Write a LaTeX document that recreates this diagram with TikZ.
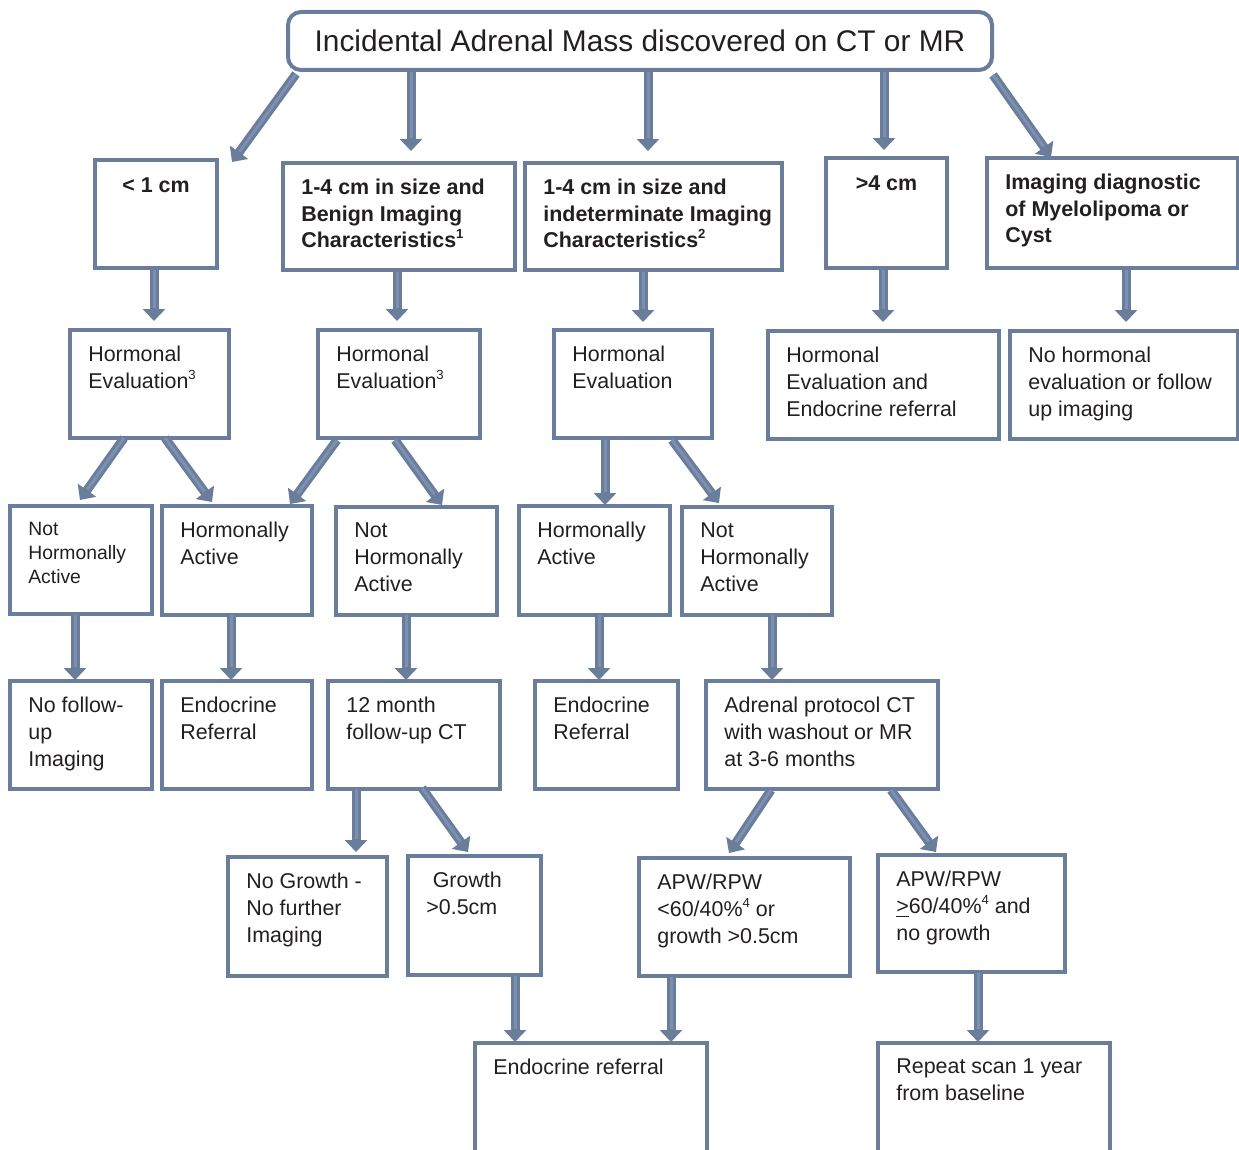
\documentclass[tikz,border=0pt]{standalone}
\usepackage{fontspec}
\setmainfont{Liberation Sans}
\usetikzlibrary{arrows.meta}
\definecolor{frame}{RGB}{106,125,155}
\definecolor{shaft}{RGB}{124,144,178}
\definecolor{ink}{RGB}{35,31,32}
\newcommand{\fnote}[1]{\raisebox{0.42em}{\fontsize{7.5}{7.5}\selectfont #1}}

\begin{document}
\begin{tikzpicture}[
    x=0.02cm, y=-0.02cm,
    font=\fontsize{12.2}{15.4}\selectfont, text=ink,
    box/.style={draw=frame, line width=0.08cm, anchor=north west, inner sep=0pt, outer sep=0pt},
    sz/.style 2 args={minimum width=#1*0.02cm, minimum height=#2*0.02cm},
    txt/.style={anchor=north west, align=left, inner sep=0pt, xshift=0.36cm, yshift=-0.31cm},
    ctxt/.style={anchor=north, align=center, inner sep=0pt, yshift=-0.34cm},
    bold/.style={font=\fontsize{12.2}{15.2}\selectfont\bfseries},
    small/.style={font=\fontsize{11}{13.7}\selectfont},
    arr/.style={frame, line width=0.18cm, -{Triangle[width=0.44cm,length=0.24cm]},
                postaction={draw=shaft, line width=0.06cm, -, shorten >=0.26cm}}
]
\useasboundingbox (0,0) rectangle (1239,1149);

% top
\node[box, sz={704}{58}, rounded corners=0.26cm, align=center,
      font=\fontsize{17}{20}\selectfont] (top) at (288,12)
      {Incidental Adrenal Mass discovered on CT or MR};

% size / imaging classes
\node[box, sz={122}{108}] (lt1) at (95,160) {};
\node[ctxt, bold] (lt1-t) at (lt1.north) {< 1 cm};
\node[box, sz={232}{107}] (ben) at (283,163) {};
\node[txt, bold] (ben-t) at (ben.north west) {1-4 cm in size and\\Benign Imaging\\Characteristics\fnote{1}};
\node[box, sz={257}{107}] (ind) at (525,163) {};
\node[txt, bold] (ind-t) at (ind.north west) {1-4 cm in size and\\indeterminate Imaging\\Characteristics\fnote{2}};
\node[box, sz={121}{110}] (gt4) at (826,158) {};
\node[ctxt, bold] (gt4-t) at (gt4.north) {>4 cm};
\node[box, sz={251}{110}] (mye) at (987,158) {};
\node[txt, bold] (mye-t) at (mye.north west) {Imaging diagnostic\\of Myelolipoma or\\Cyst};

% hormonal evaluation
\node[box, sz={159}{108}] (he1) at (70,330) {};
\node[txt] (he1-t) at (he1.north west) {Hormonal\\Evaluation\fnote{3}};
\node[box, sz={162}{108}] (he2) at (318,330) {};
\node[txt] (he2-t) at (he2.north west) {Hormonal\\Evaluation\fnote{3}};
\node[box, sz={158}{108}] (he3) at (554,330) {};
\node[txt] (he3-t) at (he3.north west) {Hormonal\\Evaluation};
\node[box, sz={231}{108}] (he4) at (768,331) {};
\node[txt] (he4-t) at (he4.north west) {Hormonal\\Evaluation and\\Endocrine referral};
\node[box, sz={228}{108}] (noh) at (1010,331) {};
\node[txt] (noh-t) at (noh.north west) {No hormonal\\evaluation or follow\\up imaging};

% activity
\node[box, sz={142}{108}] (nha1) at (10,506) {};
\node[txt, small] (nha1-t) at (nha1.north west) {Not\\Hormonally\\Active};
\node[box, sz={150}{109}] (ha1) at (162,506) {};
\node[txt] (ha1-t) at (ha1.north west) {Hormonally\\Active};
\node[box, sz={161}{108}] (nha2) at (336,507) {};
\node[txt] (nha2-t) at (nha2.north west) {Not\\Hormonally\\Active};
\node[box, sz={151}{109}] (ha2) at (519,506) {};
\node[txt] (ha2-t) at (ha2.north west) {Hormonally\\Active};
\node[box, sz={150}{108}] (nha3) at (682,507) {};
\node[txt] (nha3-t) at (nha3.north west) {Not\\Hormonally\\Active};

% follow-up
\node[box, sz={142}{108}] (nofu) at (10,681) {};
\node[txt] (nofu-t) at (nofu.north west) {No follow-\\up\\Imaging};
\node[box, sz={150}{108}] (er1) at (162,681) {};
\node[txt] (er1-t) at (er1.north west) {Endocrine\\Referral};
\node[box, sz={172}{108}] (fu12) at (328,681) {};
\node[txt] (fu12-t) at (fu12.north west) {12 month\\follow-up CT};
\node[box, sz={143}{108}] (er2) at (535,681) {};
\node[txt] (er2-t) at (er2.north west) {Endocrine\\Referral};
\node[box, sz={232}{108}] (adr) at (706,681) {};
\node[txt] (adr-t) at (adr.north west) {Adrenal protocol CT\\with washout or MR\\at 3-6 months};

% results
\node[box, sz={159}{119}] (nogr) at (228,857) {};
\node[txt] (nogr-t) at (nogr.north west) {No Growth -\\No further\\Imaging};
\node[box, sz={133}{119}] (gr) at (408,856) {};
\node[txt] (gr-t) at (gr.north west) {\hspace*{0.3em}Growth\\>0.5cm};
\node[box, sz={211}{118}] (apw1) at (639,858) {};
\node[txt] (apw1-t) at (apw1.north west) {APW/RPW\\<60/40\%\fnote{4} or\\growth >0.5cm};
\node[box, sz={187}{117}] (apw2) at (878,855) {};
\node[txt] (apw2-t) at (apw2.north west) {APW/RPW\\\underline{>}60/40\%\fnote{4} and\\no growth};

% outcome
\node[box, sz={232}{120}] (endo) at (475,1043) {};
\node[txt] (endo-t) at (endo.north west) {Endocrine referral};
\node[box, sz={232}{120}] (rep) at (878,1043) {};
\node[txt] (rep-t) at (rep.north west) {Repeat scan 1 year\\from baseline};

% arrows
\draw[arr] ([shift={(8,4)}]top.south west) -- ([shift={(15,2)}]lt1.north east);
\draw[arr] ([shift={(123,2)}]top.south west) -- ([shift={(128,-12)}]ben.north west);
\draw[arr] ([shift={(360,2)}]top.south west) -- ([shift={(123,-12)}]ind.north west);
\draw[arr] ([shift={(596,2)}]top.south west) -- ([shift={(58,-8)}]gt4.north west);
\draw[arr] ([shift={(1,5)}]top.south east) -- ([shift={(64,-1)}]mye.north west);

\draw[arr] ([shift={(59,2)}]lt1.south west) -- ([shift={(84,-9)}]he1.north west);
\draw[arr] ([shift={(114,2)}]ben.south west) -- ([shift={(79,-9)}]he2.north west);
\draw[arr] ([shift={(118,2)}]ind.south west) -- ([shift={(89,-8)}]he3.north west);
\draw[arr] ([shift={(57,2)}]gt4.south west) -- ([shift={(115,-9)}]he4.north west);
\draw[arr] ([shift={(139,2)}]mye.south west) -- ([shift={(116,-9)}]noh.north west);

\draw[arr] ([shift={(54,0)}]he1.south west) -- ([shift={(70,-6)}]nha1.north west);
\draw[arr] ([shift={(95,0)}]he1.south west) -- ([shift={(50,-4)}]ha1.north west);
\draw[arr] ([shift={(19,2)}]he2.south west) -- ([shift={(-22,-2)}]ha1.north east);
\draw[arr] ([shift={(77,2)}]he2.south west) -- ([shift={(106,-2)}]nha2.north west);
\draw[arr] ([shift={(51,2)}]he3.south west) -- ([shift={(86,-1)}]ha2.north west);
\draw[arr] ([shift={(118,2)}]he3.south west) -- ([shift={(37,-4)}]nha3.north west);

\draw[arr] ([shift={(65,1)}]nha1.south west) -- ([shift={(65,-1)}]nofu.north west);
\draw[arr] ([shift={(69,0)}]ha1.south west) -- ([shift={(69,-1)}]er1.north west);
\draw[arr] ([shift={(70,0)}]nha2.south west) -- ([shift={(78,-1)}]fu12.north west);
\draw[arr] ([shift={(80,0)}]ha2.south west) -- ([shift={(64,-1)}]er2.north west);
\draw[arr] ([shift={(90,0)}]nha3.south west) -- ([shift={(66,-1)}]adr.north west);

\draw[arr] ([shift={(28,0)}]fu12.south west) -- ([shift={(128,-5)}]nogr.north west);
\draw[arr] ([shift={(94,-1)}]fu12.south west) -- ([shift={(60,-4)}]gr.north west);
\draw[arr] ([shift={(65,1)}]adr.south west) -- ([shift={(90,-5)}]apw1.north west);
\draw[arr] ([shift={(185,1)}]adr.south west) -- ([shift={(58,-3)}]apw2.north west);

\draw[arr] ([shift={(107,1)}]gr.south west) -- ([shift={(40,-1)}]endo.north west);
\draw[arr] ([shift={(32,1)}]apw1.south west) -- ([shift={(196,-1)}]endo.north west);
\draw[arr] ([shift={(100,1)}]apw2.south west) -- ([shift={(100,-1)}]rep.north west);
\end{tikzpicture}
\end{document}
